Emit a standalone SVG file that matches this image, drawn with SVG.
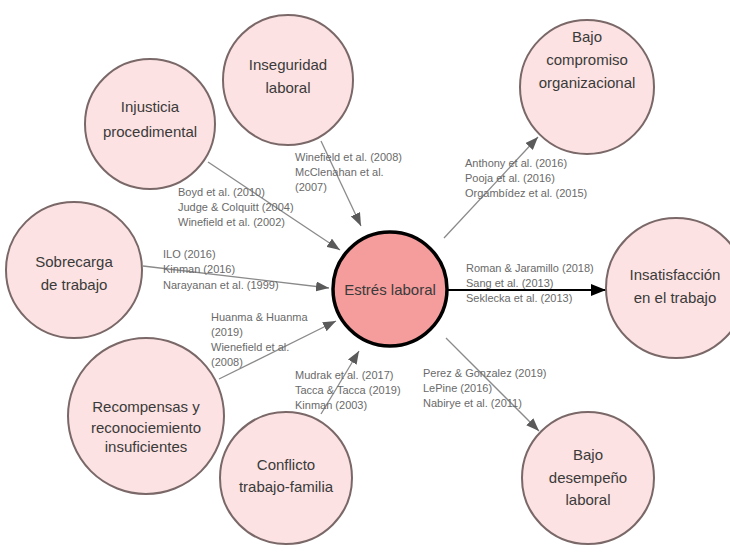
<svg xmlns="http://www.w3.org/2000/svg" width="730" height="552" viewBox="0 0 730 552">
  <style>
    .node { fill: #fce2e2; stroke: #7a6868; stroke-width: 2; }
    .core { fill: #f59c9c; stroke: #000; stroke-width: 3.5; }
    .lbl { font-family: "Liberation Sans", Arial, sans-serif; font-size: 15px; fill: #3a3a3a; text-anchor: middle; }
    .ref { font-family: "Liberation Sans", Arial, sans-serif; font-size: 11px; fill: #6a6a6a; }
    .edge { stroke: #8a8a8a; stroke-width: 1.3; fill: none; marker-end: url(#arrowGray); }
    .edge-main { stroke: #000; stroke-width: 2; fill: none; marker-end: url(#arrowBlack); }
  </style>
  <defs>
    <marker id="arrowGray" markerUnits="userSpaceOnUse" markerWidth="14" markerHeight="10" refX="13" refY="5" orient="auto">
      <path d="M0,0 L13,5 L0,10 z" fill="#5a5a5a"/>
    </marker>
    <marker id="arrowBlack" markerUnits="userSpaceOnUse" markerWidth="16" markerHeight="12" refX="15" refY="6" orient="auto">
      <path d="M0,0 L15,6 L0,12 z" fill="#000"/>
    </marker>
  </defs>
  <rect x="0" y="0" width="730" height="552" fill="#fff"/>

  <!-- connectors -->
  <g id="connectors">
    <line class="edge" x1="321" y1="141" x2="361" y2="226"/>
    <line class="edge" x1="208" y1="162" x2="340" y2="250"/>
    <line class="edge" x1="143" y1="266" x2="329" y2="288"/>
    <line class="edge" x1="219" y1="379" x2="336" y2="321"/>
    <line class="edge" x1="321" y1="414" x2="359" y2="351"/>
    <line class="edge" x1="444" y1="238" x2="538" y2="137"/>
    <line class="edge-main" x1="447" y1="290" x2="606" y2="290"/>
    <line class="edge" x1="446" y1="338" x2="539" y2="431"/>
  </g>

  <!-- connector labels -->
  <g id="references">
    <text class="ref" x="295" y="161">Winefield et al. (2008)</text>
    <text class="ref" x="295" y="176">McClenahan et al.</text>
    <text class="ref" x="295" y="191">(2007)</text>

    <text class="ref" x="178" y="196">Boyd et al. (2010)</text>
    <text class="ref" x="178" y="211">Judge &amp; Colquitt (2004)</text>
    <text class="ref" x="178" y="226">Winefield et al. (2002)</text>

    <text class="ref" x="163" y="258">ILO (2016)</text>
    <text class="ref" x="163" y="273">Kinman (2016)</text>
    <text class="ref" x="163" y="289">Narayanan et al. (1999)</text>

    <text class="ref" x="211" y="321">Huanma &amp; Huanma</text>
    <text class="ref" x="211" y="336">(2019)</text>
    <text class="ref" x="211" y="351">Wienefield et al.</text>
    <text class="ref" x="211" y="366">(2008)</text>

    <text class="ref" x="295" y="379">Mudrak et al. (2017)</text>
    <text class="ref" x="295" y="394">Tacca &amp; Tacca (2019)</text>
    <text class="ref" x="295" y="409">Kinman (2003)</text>

    <text class="ref" x="465" y="167">Anthony et al. (2016)</text>
    <text class="ref" x="465" y="182">Pooja et al. (2016)</text>
    <text class="ref" x="465" y="197">Orgambídez et al. (2015)</text>

    <text class="ref" x="466" y="272">Roman &amp; Jaramillo (2018)</text>
    <text class="ref" x="466" y="287">Sang et al. (2013)</text>
    <text class="ref" x="466" y="302">Seklecka et al. (2013)</text>

    <text class="ref" x="423" y="377">Perez &amp; Gonzalez (2019)</text>
    <text class="ref" x="423" y="392">LePine (2016)</text>
    <text class="ref" x="423" y="407">Nabirye et al. (2011)</text>
  </g>

  <!-- nodes -->
  <g id="estres">
    <circle class="core" cx="390" cy="289" r="57"/>
    <text class="lbl" x="390" y="295">Estrés laboral</text>
  </g>
  <g id="inseguridad">
    <circle class="node" cx="288" cy="80" r="65"/>
    <text class="lbl" x="288" y="70">Inseguridad</text>
    <text class="lbl" x="288" y="93">laboral</text>
  </g>
  <g id="injusticia">
    <circle class="node" cx="150" cy="124" r="65"/>
    <text class="lbl" x="150" y="112">Injusticia</text>
    <text class="lbl" x="150" y="137">procedimental</text>
  </g>
  <g id="sobrecarga">
    <circle class="node" cx="74" cy="270" r="68"/>
    <text class="lbl" x="74" y="267">Sobrecarga</text>
    <text class="lbl" x="74" y="290">de trabajo</text>
  </g>
  <g id="recompensas">
    <circle class="node" cx="146" cy="416" r="78"/>
    <text class="lbl" x="146" y="412">Recompensas y</text>
    <text class="lbl" x="146" y="433">reconociemiento</text>
    <text class="lbl" x="146" y="452">insuficientes</text>
  </g>
  <g id="conflicto">
    <circle class="node" cx="286" cy="478" r="66"/>
    <text class="lbl" x="286" y="470">Conflicto</text>
    <text class="lbl" x="286" y="492">trabajo-familia</text>
  </g>
  <g id="compromiso">
    <circle class="node" cx="587" cy="87" r="67"/>
    <text class="lbl" x="587" y="42">Bajo</text>
    <text class="lbl" x="587" y="65">compromiso</text>
    <text class="lbl" x="587" y="88">organizacional</text>
  </g>
  <g id="insatisfaccion">
    <circle class="node" cx="676" cy="288" r="70"/>
    <text class="lbl" x="675" y="280">Insatisfacción</text>
    <text class="lbl" x="675" y="303">en el trabajo</text>
  </g>
  <g id="desempeno">
    <circle class="node" cx="588" cy="478" r="66"/>
    <text class="lbl" x="588" y="460">Bajo</text>
    <text class="lbl" x="588" y="483">desempeño</text>
    <text class="lbl" x="588" y="505">laboral</text>
  </g>
</svg>
